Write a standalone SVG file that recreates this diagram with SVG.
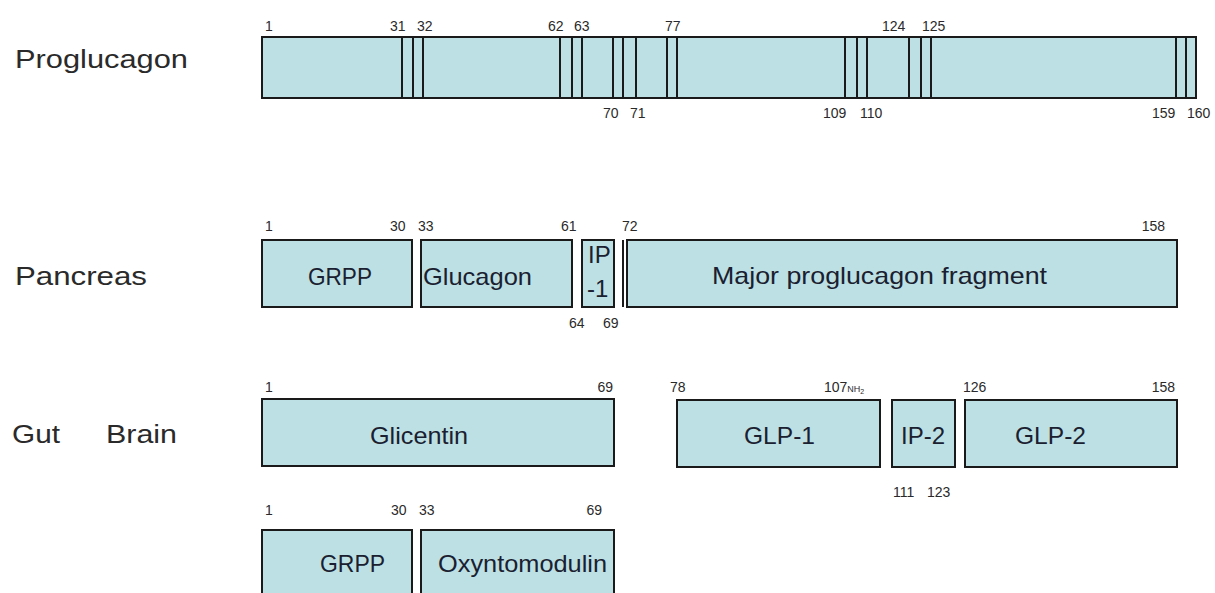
<svg xmlns="http://www.w3.org/2000/svg" width="1215" height="593" viewBox="0 0 1215 593">
<style>
.bg{fill:#ffffff}
.box{fill:#bce0e3;stroke:#1a1a1a;stroke-width:2}
.cut{stroke:#1a1a1a;stroke-width:2;fill:none}
.num{font-family:"Liberation Sans",Arial,sans-serif;font-size:14px;fill:#2a2a2a}
.lbl{font-family:"Liberation Sans",Arial,sans-serif;font-size:24px;fill:#1a2030}
.row{font-family:"Liberation Sans",Arial,sans-serif;font-size:26px;fill:#2a2a2a}
</style>
<rect class="bg" x="0" y="0" width="1215" height="593"/>

<g id="row-labels">
<text class="row" x="15" y="68" textLength="173" lengthAdjust="spacingAndGlyphs">Proglucagon</text>
<text class="row" x="15" y="285" textLength="132" lengthAdjust="spacingAndGlyphs">Pancreas</text>
<text class="row" x="12" y="443" textLength="48" lengthAdjust="spacingAndGlyphs">Gut</text>
<text class="row" x="106" y="443" textLength="71" lengthAdjust="spacingAndGlyphs">Brain</text>
</g>

<g id="proglucagon">
<rect class="box" x="262" y="37" width="934" height="61"/>
<g class="cut">
<line x1="402" y1="37" x2="402" y2="98"/>
<line x1="413" y1="37" x2="413" y2="98"/>
<line x1="423" y1="37" x2="423" y2="98"/>
<line x1="560" y1="37" x2="560" y2="98"/>
<line x1="572" y1="37" x2="572" y2="98"/>
<line x1="582" y1="37" x2="582" y2="98"/>
<line x1="613" y1="37" x2="613" y2="98"/>
<line x1="623" y1="37" x2="623" y2="98"/>
<line x1="636" y1="37" x2="636" y2="98"/>
<line x1="667" y1="37" x2="667" y2="98"/>
<line x1="677" y1="37" x2="677" y2="98"/>
<line x1="845" y1="37" x2="845" y2="98"/>
<line x1="857" y1="37" x2="857" y2="98"/>
<line x1="867" y1="37" x2="867" y2="98"/>
<line x1="909" y1="37" x2="909" y2="98"/>
<line x1="921" y1="37" x2="921" y2="98"/>
<line x1="931" y1="37" x2="931" y2="98"/>
<line x1="1176" y1="37" x2="1176" y2="98"/>
<line x1="1186" y1="37" x2="1186" y2="98"/>
</g>
<text class="num" x="265" y="31">1</text>
<text class="num" x="390" y="31">31</text>
<text class="num" x="417" y="31">32</text>
<text class="num" x="548" y="31">62</text>
<text class="num" x="574" y="31">63</text>
<text class="num" x="665" y="31">77</text>
<text class="num" x="882" y="31">124</text>
<text class="num" x="922" y="31">125</text>
<text class="num" x="603" y="118">70</text>
<text class="num" x="630" y="118">71</text>
<text class="num" x="823" y="118">109</text>
<text class="num" x="860" y="118">110</text>
<text class="num" x="1152" y="118">159</text>
<text class="num" x="1187" y="118">160</text>
</g>

<g id="pancreas-grpp">
<rect class="box" x="262" y="240" width="150" height="67"/>
<text class="lbl" x="308" y="285" textLength="64" lengthAdjust="spacingAndGlyphs">GRPP</text>
<text class="num" x="265" y="231">1</text>
<text class="num" x="390" y="231">30</text>
</g>
<g id="pancreas-glucagon">
<rect class="box" x="421" y="240" width="151" height="67"/>
<text class="lbl" x="423" y="285" textLength="109" lengthAdjust="spacingAndGlyphs">Glucagon</text>
<text class="num" x="418" y="231">33</text>
<text class="num" x="561" y="231">61</text>
</g>
<g id="pancreas-ip1">
<rect class="box" x="582" y="240" width="32" height="67"/>
<text class="lbl" x="588" y="263" font-size="22">IP</text>
<text class="lbl" x="587" y="297" font-size="22">-1</text>
<text class="num" x="569" y="328">64</text>
<text class="num" x="603" y="328">69</text>
</g>
<g id="pancreas-mpgf">
<line class="cut" x1="623" y1="240" x2="623" y2="307"/>
<rect class="box" x="627" y="240" width="550" height="67"/>
<text class="lbl" x="712" y="284" textLength="335" lengthAdjust="spacingAndGlyphs">Major proglucagon fragment</text>
<text class="num" x="622" y="231">72</text>
<text class="num" x="1165" y="231" text-anchor="end">158</text>
</g>

<g id="gut-glicentin">
<rect class="box" x="262" y="399" width="352" height="67"/>
<text class="lbl" x="370" y="444" textLength="98" lengthAdjust="spacingAndGlyphs">Glicentin</text>
<text class="num" x="265" y="392">1</text>
<text class="num" x="613" y="392" text-anchor="end">69</text>
</g>
<g id="gut-glp1">
<rect class="box" x="677" y="400" width="203" height="67"/>
<text class="lbl" x="744" y="444" textLength="71" lengthAdjust="spacingAndGlyphs">GLP-1</text>
<text class="num" x="670" y="392">78</text>
<text class="num" x="824" y="392">107<tspan font-size="9">NH</tspan><tspan font-size="7" dy="2">2</tspan></text>
</g>
<g id="gut-ip2">
<rect class="box" x="892" y="400" width="63" height="67"/>
<text class="lbl" x="901" y="444" textLength="44" lengthAdjust="spacingAndGlyphs">IP-2</text>
<text class="num" x="893" y="497">111</text>
<text class="num" x="927" y="497">123</text>
</g>
<g id="gut-glp2">
<rect class="box" x="965" y="400" width="212" height="67"/>
<text class="lbl" x="1015" y="444" textLength="71" lengthAdjust="spacingAndGlyphs">GLP-2</text>
<text class="num" x="963" y="392">126</text>
<text class="num" x="1175" y="392" text-anchor="end">158</text>
</g>

<g id="brain-grpp">
<rect class="box" x="262" y="530" width="150" height="80"/>
<text class="lbl" x="320" y="572" textLength="65" lengthAdjust="spacingAndGlyphs">GRPP</text>
<text class="num" x="265" y="515">1</text>
<text class="num" x="391" y="515">30</text>
</g>
<g id="brain-oxyntomodulin">
<rect class="box" x="421" y="530" width="193" height="80"/>
<text class="lbl" x="438" y="572" textLength="169" lengthAdjust="spacingAndGlyphs">Oxyntomodulin</text>
<text class="num" x="419" y="515">33</text>
<text class="num" x="602" y="515" text-anchor="end">69</text>
</g>

<g id="connectors"></g>
</svg>
